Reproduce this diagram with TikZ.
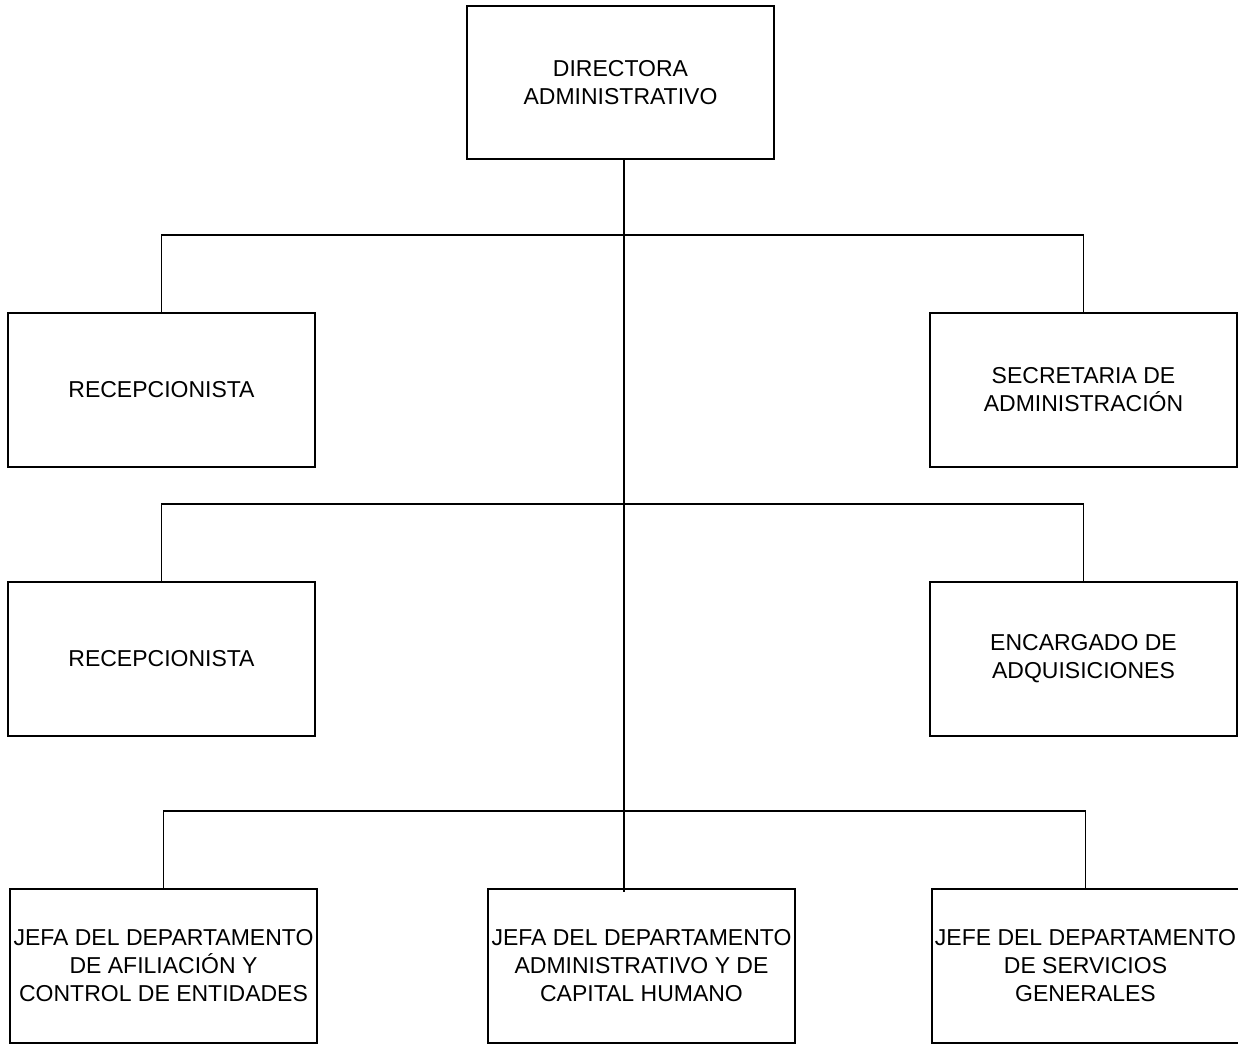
\documentclass[tikz,border=0pt]{standalone}
\usepackage{fontspec}
\setmainfont{Liberation Sans}
\begin{document}
\begin{tikzpicture}[x=1pt,y=1pt,
  orgbox/.style={draw, line width=1.5pt, minimum width=307pt, minimum height=154pt,
    inner sep=0pt, align=center, font=\fontsize{23}{28}\selectfont},
  link/.style={line width=1.6pt}]
\useasboundingbox (0,0) rectangle (1238,-1043);
\fill[white] (0,0) rectangle (1238,-1043);
\node[orgbox, minimum height=153pt] (top) at (620.5,-82.5) {DIRECTORA\\ADMINISTRATIVO};
\node[orgbox] (a1) at (161.5,-390) {RECEPCIONISTA};
\node[orgbox] (a2) at (1083.5,-390) {SECRETARIA DE\\ADMINISTRACIÓN};
\node[orgbox] (b1) at (161.5,-659) {RECEPCIONISTA};
\node[orgbox] (b2) at (1083.5,-659) {ENCARGADO DE\\ADQUISICIONES};
\node[orgbox] (c1) at (163.5,-966) {JEFA DEL DEPARTAMENTO\\DE AFILIACIÓN Y\\CONTROL DE ENTIDADES};
\node[orgbox] (c2) at (641.5,-966) {JEFA DEL DEPARTAMENTO\\ADMINISTRATIVO Y DE\\CAPITAL HUMANO};
\node[orgbox] (c3) at (1085.5,-966) {JEFE DEL DEPARTAMENTO\\DE SERVICIOS\\GENERALES};
\coordinate (spine) at (624,-892);
\draw[link] (top.south -| spine) -- (spine);
\draw[link] (a1.north) -- ++(0,77) -| (a2.north);
\draw[link] (b1.north) -- ++(0,77) -| (b2.north);
\draw[link] (c1.north) -- ++(0,77) -| (c3.north);
\end{tikzpicture}
\end{document}
